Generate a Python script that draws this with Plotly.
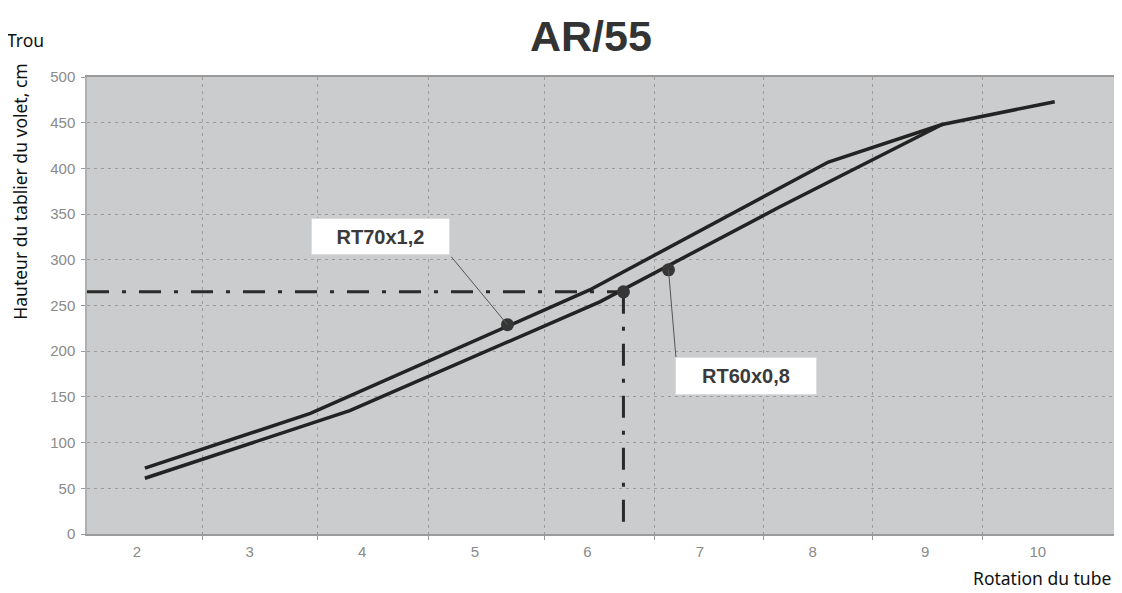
import plotly.graph_objects as go

# ---- data ----
x_ticks = [2, 3, 4, 5, 6, 7, 8, 9, 10]
x_tick_labels = ["2", "3", "4", "5", "6", "7", "8", "9", "10"]
y_ticks = [0, 50, 100, 150, 200, 250, 300, 350, 400, 450, 500]

rt70_x = [2.07, 3.54, 6.02, 8.14, 9.15, 10.15]
rt70_y = [72, 132, 267, 407, 448, 473]

rt60_x = [2.07, 3.89, 6.11, 7.71, 9.15]
rt60_y = [61, 135, 254, 358, 448]

rt70_marker_x = [5.29]
rt70_marker_y = [229]
rt60_marker_x = [6.32, 6.72]
rt60_marker_y = [265, 289]

read_x = 6.32      # example reading: rotation
read_y = 265       # example reading: height

grid_x = [2.586, 3.599, 4.593, 5.615, 6.592, 7.568, 8.536, 9.513]

x_range = [1.556, 10.712]
y_range = [0, 500]

LINE = "#232323"
DASHDOT = "22px,13px,4px,13px"
SIDE_FONT = dict(family="Noto Sans, Open Sans", size=17.5, color="#111111")

fig = go.Figure()

# reading guide lines (dash-dot)
fig.add_trace(go.Scatter(x=[x_range[0], read_x], y=[read_y, read_y], mode="lines",
                         line=dict(color="#2a2a2a", width=3, dash=DASHDOT),
                         hoverinfo="skip", showlegend=False))
fig.add_trace(go.Scatter(x=[read_x, read_x], y=[read_y, y_range[0]], mode="lines",
                         line=dict(color="#2a2a2a", width=3, dash=DASHDOT),
                         hoverinfo="skip", showlegend=False))

fig.add_trace(go.Scatter(x=rt70_x, y=rt70_y, mode="lines", name="RT70x1,2",
                         line=dict(color=LINE, width=3.5), showlegend=False))
fig.add_trace(go.Scatter(x=rt60_x, y=rt60_y, mode="lines", name="RT60x0,8",
                         line=dict(color=LINE, width=3.5), showlegend=False))

fig.add_trace(go.Scatter(x=rt70_marker_x + rt60_marker_x,
                         y=rt70_marker_y + rt60_marker_y, mode="markers",
                         marker=dict(color="#363636", size=13), showlegend=False))

# labels with leader lines
label_font = dict(family="Liberation Sans Narrow, Liberation Sans, Arial", size=20, color="#3a3a3a")
fig.add_annotation(x=4.16, y=325.5, xref="x", yref="y", text="<b>RT70x1,2</b>",
                   showarrow=False, bgcolor="white", bordercolor="#dcdcdc", borderwidth=1,
                   width=135, height=33, font=label_font)
fig.add_annotation(x=rt70_marker_x[0], y=rt70_marker_y[0], ax=4.78, ay=305,
                   axref="x", ayref="y", xref="x", yref="y", text="",
                   showarrow=True, arrowhead=0, arrowwidth=1, arrowcolor="#555555")

fig.add_annotation(x=7.41, y=172.5, xref="x", yref="y", text="<b>RT60x0,8</b>",
                   showarrow=False, bgcolor="white", bordercolor="#dcdcdc", borderwidth=1,
                   width=138, height=34, font=label_font)
fig.add_annotation(x=rt60_marker_x[1], y=rt60_marker_y[1], ax=6.787, ay=192,
                   axref="x", ayref="y", xref="x", yref="y", text="",
                   showarrow=True, arrowhead=0, arrowwidth=1, arrowcolor="#555555")

# title and side texts
fig.add_annotation(x=0.4888, y=1, xref="paper", yref="paper", xanchor="center", yanchor="middle",
                   yshift=41, text="<b>AR/55</b>", showarrow=False,
                   font=dict(family="Liberation Sans, Arial", size=43, color="#333333"))
fig.add_annotation(x=0, y=1, xref="paper", yref="paper", xanchor="right", yanchor="middle",
                   xshift=-41, yshift=37, text="Trou", showarrow=False, font=SIDE_FONT)
fig.add_annotation(x=0, y=0.749, xref="paper", yref="paper", xanchor="center", yanchor="middle",
                   xshift=-67, text="Hauteur du tablier du volet, cm", textangle=-90,
                   showarrow=False, font=SIDE_FONT)
fig.add_annotation(x=1, y=0, xref="paper", yref="paper", xanchor="right", yanchor="middle",
                   xshift=-5, yshift=-44, text="Rotation du tube", showarrow=False,
                   font=SIDE_FONT)

fig.update_layout(
    width=1114, height=585,
    margin=dict(l=79, r=4, t=69.4, b=59.4, autoexpand=False),
    paper_bgcolor="white",
    plot_bgcolor="#cbcccd",
    showlegend=False,
    xaxis=dict(range=x_range, tickvals=x_ticks, ticktext=x_tick_labels, automargin=False,
               showgrid=False, zeroline=False, ticks="", ticklabelstandoff=3,
               tickfont=dict(family="Liberation Sans, Arial", size=15, color="#8a8a8a"),
               showline=True, linecolor="#9a9a9a", linewidth=2, mirror=True,
               minor=dict(tickvals=grid_x, showgrid=True, gridcolor="#9b9b9b",
                          griddash="3px,4px", gridwidth=1.2, ticks="outside",
                          ticklen=4, tickcolor="#9a9a9a")),
    yaxis=dict(range=y_range, tickvals=y_ticks, automargin=False,
               showgrid=True, gridcolor="#9b9b9b", griddash="3px,4px", gridwidth=1.2,
               zeroline=False, ticks="outside", ticklen=4, tickcolor="#9a9a9a",
               ticklabelstandoff=3,
               tickfont=dict(family="Liberation Sans, Arial", size=15, color="#8a8a8a"),
               showline=True, linecolor="#b0b0b0", linewidth=1.5, mirror=True),
)

fig.write_html("out.html")
